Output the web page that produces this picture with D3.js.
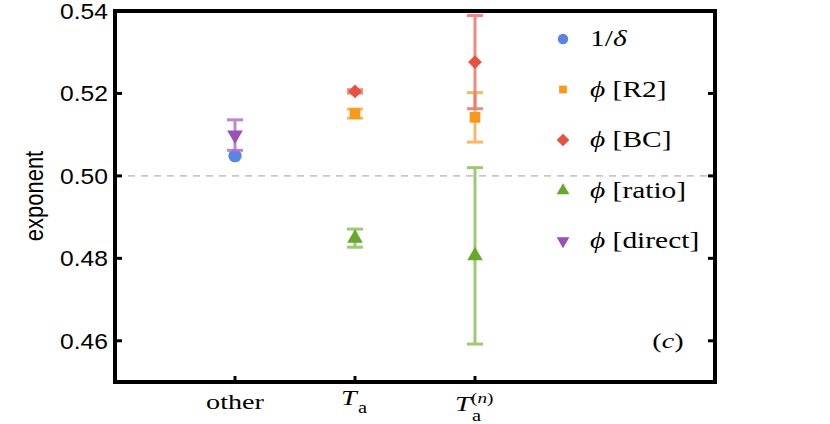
<!DOCTYPE html>
<html>
<head>
<meta charset="utf-8">
<script src="https://cdn.jsdelivr.net/npm/d3@7"></script>
<style>
  body { margin: 0; background: #fff; }
  svg { display: block; }
</style>
</head>
<body>
<div id="chart"></div>
<script>
// categories along x (positions 1..3)
var categories = ["other", "Ta", "Tan"];
var yTicks = [0.46, 0.48, 0.50, 0.52, 0.54];

// series: value and error per category (null = no point)
var seriesNames = ["1/δ", "R2", "BC", "ratio", "direct"];
var invDelta   = [0.5049, null, null];
var invDeltaEr = [0, null, null];
var phiR2      = [null, 0.5151, 0.5142];
var phiR2Er    = [null, 0.0011, 0.0060];
var phiBC      = [null, 0.5205, 0.5276];
var phiBCEr    = [null, 0.0004, 0.0113];
var phiRatio   = [null, 0.4849, 0.4806];
var phiRatioEr = [null, 0.0022, 0.0214];
var phiDirect  = [0.5099, null, null];
var phiDirectEr= [0.0037, null, null];

var svgWidth = 830, svgHeight = 424;
var margin = { top: 11, right: 115, bottom: 42, left: 115 };
var chartWidth = svgWidth - margin.left - margin.right;
var chartHeight = svgHeight - margin.top - margin.bottom;

var svg = d3.select("#chart").append("svg")
    .attr("width", svgWidth)
    .attr("height", svgHeight);

var chartGroup = svg.append("g")
    .attr("transform", `translate(${margin.left}, ${margin.top})`);

var x = d3.scaleLinear().domain([0, 5]).range([0, chartWidth]);
var y = d3.scaleLinear().domain([0.45, 0.54]).range([chartHeight, 0]);

// dashed reference line at 0.5
chartGroup.append("line")
    .attr("x1", 0).attr("x2", chartWidth)
    .attr("y1", y(0.5)).attr("y2", y(0.5))
    .attr("stroke", "#c8c8c8")
    .attr("stroke-width", 1.6)
    .attr("stroke-dasharray", "7,6");

var series = [
  { vals: invDelta,  errs: invDeltaEr,  color: "#5a84e4", bar: "#5a84e4", sym: d3.symbolCircle,   size: 140, rot: 0 },
  { vals: phiR2,     errs: phiR2Er,     color: "#f7991c", bar: "#f9ad4a", sym: d3.symbolSquare,   size: 115, rot: 0 },
  { vals: phiBC,     errs: phiBCEr,     color: "#e6523f", bar: "#ec7669", sym: d3.symbolSquare,   size: 95,  rot: 45 },
  { vals: phiRatio,  errs: phiRatioEr,  color: "#69a82c", bar: "#8cc15a", sym: d3.symbolTriangle, size: 105, rot: 0 },
  { vals: phiDirect, errs: phiDirectEr, color: "#9c4fb8", bar: "#b074c8", sym: d3.symbolTriangle, size: 105, rot: 180 }
];

var capHalf = 8;
series.forEach(function (s) {
  var pts = [];
  s.vals.forEach(function (v, i) {
    if (v !== null) pts.push({ x: i + 1, v: v, e: s.errs[i] });
  });
  var g = chartGroup.append("g");
  pts.forEach(function (p) {
    if (p.e > 0) {
      var eg = g.append("g")
          .attr("stroke", s.bar)
          .attr("stroke-width", 3)
          .attr("opacity", 0.85);
      eg.append("line")
          .attr("x1", x(p.x)).attr("x2", x(p.x))
          .attr("y1", y(p.v - p.e)).attr("y2", y(p.v + p.e));
      [p.v - p.e, p.v + p.e].forEach(function (c) {
        eg.append("line")
            .attr("x1", x(p.x) - capHalf).attr("x2", x(p.x) + capHalf)
            .attr("y1", y(c)).attr("y2", y(c));
      });
    }
    g.append("path")
        .attr("d", d3.symbol().type(s.sym).size(s.size)())
        .attr("transform", `translate(${x(p.x)}, ${y(p.v)}) rotate(${s.rot})`)
        .attr("fill", s.color);
  });
});

// frame
chartGroup.append("rect")
    .attr("x", 0).attr("y", 0)
    .attr("width", chartWidth).attr("height", chartHeight)
    .attr("fill", "none")
    .attr("stroke", "#000")
    .attr("stroke-width", 4);

// left / right ticks, inward
var tickG = chartGroup.append("g").attr("stroke", "#000").attr("stroke-width", 3);
yTicks.forEach(function (t) {
  tickG.append("line").attr("x1", 0).attr("x2", 7).attr("y1", y(t)).attr("y2", y(t));
  tickG.append("line").attr("x1", chartWidth - 7).attr("x2", chartWidth).attr("y1", y(t)).attr("y2", y(t));
});
categories.forEach(function (c, i) {
  tickG.append("line").attr("x1", x(i + 1)).attr("x2", x(i + 1))
      .attr("y1", chartHeight).attr("y2", chartHeight - 6);
});

// y tick labels
var sans = "'Liberation Sans', Arial, sans-serif";
chartGroup.append("g")
    .selectAll("text")
    .data(yTicks)
    .enter().append("text")
    .attr("transform", d => `translate(-7, ${y(d)}) scale(1.12, 1)`)
    .attr("dy", "0.36em")
    .attr("text-anchor", "end")
    .style("font-family", sans)
    .style("font-size", "22px")
    .text(d => d3.format(".2f")(d));

// y axis title
svg.append("text")
    .attr("transform", "translate(43, 196) rotate(-90) scale(1, 1.15)")
    .attr("text-anchor", "middle")
    .style("font-family", sans)
    .style("font-size", "22px")
    .text("exponent");

// serif text, stretched horizontally like the reference
var serif = "'Liberation Serif', 'Times New Roman', serif";
var sx = 1.28;
function stext(parent, px, py, size, anchor) {
  return parent.append("text")
      .attr("transform", `translate(${px}, ${py}) scale(${sx}, 1)`)
      .attr("text-anchor", anchor || "start")
      .style("font-family", serif)
      .style("font-size", size + "px");
}

// x tick labels
stext(svg, 235, 409, 22, "middle").text("other");

stext(svg, 341, 405, 22).style("font-style", "italic").text("T");
stext(svg, 358, 413, 16).text("a");

stext(svg, 455, 411, 22).style("font-style", "italic").text("T");
stext(svg, 472, 421, 16).text("a");
var sup = stext(svg, 471, 403, 15);
sup.append("tspan").text("(");
sup.append("tspan").style("font-style", "italic").text("n");
sup.append("tspan").text(")");

// panel label
var pl = stext(svg, 668, 348, 22, "middle");
pl.append("tspan").text("(");
pl.append("tspan").style("font-style", "italic").text("c");
pl.append("tspan").text(")");

// legend
var legendY = d3.scalePoint().domain(seriesNames).range([39, 241]);
var legend = svg.append("g");
var legSizes = [85, 60, 80, 70, 70];
seriesNames.forEach(function (name, i) {
  var s = series[i];
  var ly = legendY(name);
  legend.append("path")
      .attr("d", d3.symbol().type(s.sym).size(legSizes[i])())
      .attr("transform", `translate(563, ${ly}) rotate(${s.rot})`)
      .attr("fill", s.color);
  var t = stext(legend, 590, ly + 7, 23);
  if (i === 0) {
    t.append("tspan").text("1/");
    t.append("tspan").style("font-style", "italic").text("δ");
  } else {
    t.append("tspan").style("font-style", "italic").text("ϕ");
    t.append("tspan").text(" [" + name + "]");
  }
});
</script>
</body>
</html>
